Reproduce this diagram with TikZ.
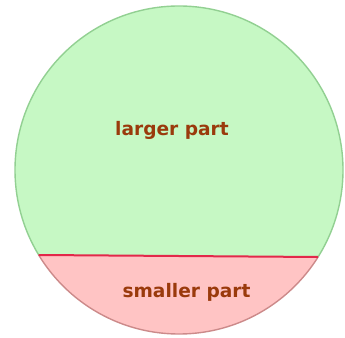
\documentclass[tikz,border=0pt]{standalone}
\usepackage{fontspec}
\setmainfont{DejaVu Sans}
\definecolor{greenfill}{HTML}{C6F8C4}
\definecolor{greenedge}{HTML}{92D092}
\definecolor{pinkfill}{HTML}{FFC4C4}
\definecolor{pinkedge}{HTML}{CC8A8A}
\definecolor{chordred}{HTML}{E2284A}
\definecolor{labelbrown}{HTML}{9A3A0C}
\tikzset{
  partlabel/.style={text=labelbrown, font=\fontsize{18.6}{22}\selectfont\bfseries, inner sep=0pt}
}
\begin{document}
\begin{tikzpicture}[x=1pt,y=1pt]
\useasboundingbox (0,0) rectangle (345,337);
\coordinate (c) at (179,167);
\coordinate (L) at (38.7,82);
\coordinate (R) at (318,80);
% fills
\fill[greenfill] (c) circle[radius=164];
\begin{scope}
  \clip (c) circle[radius=164];
  \fill[pinkfill] (0,82.28) -- (345,79.81) -- (345,0) -- (0,0) -- cycle;
\end{scope}
% border: upper part green
\begin{scope}
  \clip (0,82.28) -- (345,79.81) -- (345,337) -- (0,337) -- cycle;
  \draw[greenedge, line width=1.4pt] (c) circle[radius=164];
\end{scope}
\begin{scope}
  \clip (0,82.28) -- (345,79.81) -- (345,0) -- (0,0) -- cycle;
  \draw[pinkedge, line width=1.4pt] (c) circle[radius=164];
\end{scope}
% chord
\draw[chordred, line width=2pt] (L) -- (R);
% labels
\node[partlabel] (larger) at (172,207) {larger part};
\node[partlabel] (smaller) at (186.5,45) {smaller part};
\end{tikzpicture}
\end{document}
